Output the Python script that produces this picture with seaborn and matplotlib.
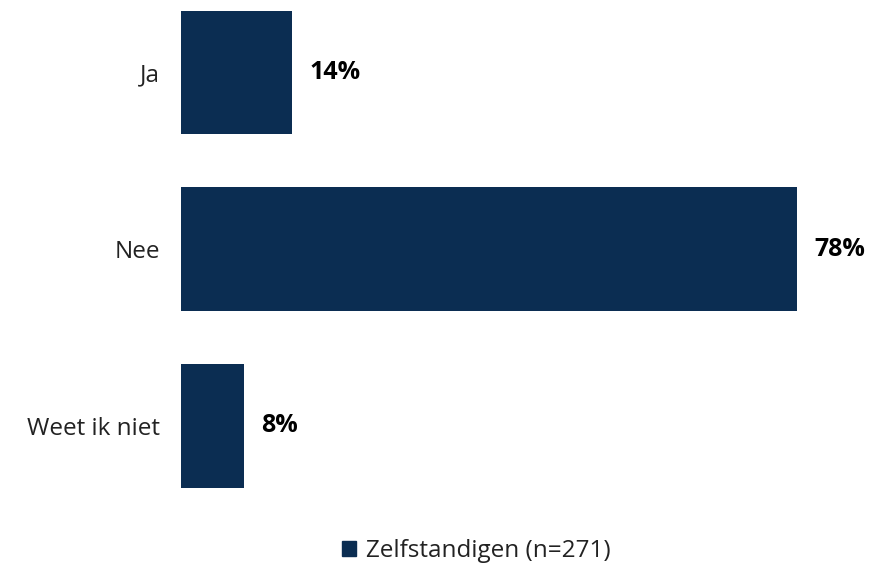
import matplotlib
matplotlib.use("Agg")
import matplotlib.pyplot as plt
import seaborn as sns
import pandas as pd
from matplotlib.patches import Patch

categories = ["Ja", "Nee", "Weet ik niet"]
values = [14, 78, 8]
series_name = "Zelfstandigen (n=271)"

df = pd.DataFrame({"antwoord": categories, "pct": values})

sns.set_style("white")
plt.rcParams['font.family'] = ['Open Sans', 'DejaVu Sans']

fig = plt.figure(figsize=(8.74, 5.66), dpi=100)
ax = fig.add_axes([181 / 874, 66 / 566, 693 / 874, 500 / 566])

kleur = "#0B2D52"
sns.barplot(data=df, y="antwoord", x="pct", color=kleur, width=0.70,
            saturation=1, linewidth=0, ax=ax, orient="h")

ax.set_xlim(0, 87.7)
ax.set_ylim(2.42, -0.41)
ax.set_xlabel("")
ax.set_ylabel("")
ax.set_xticks([])
ax.tick_params(axis="y", length=0, labelsize=17.5, pad=15, colors="#222222")
for s in ax.spines.values():
    s.set_visible(False)

for i, v in enumerate(values):
    ax.text(v + 2.2, i, f"{v}%", va="center", ha="left", fontsize=18,
            fontweight="bold", color="black")

handles = [Patch(facecolor=kleur, edgecolor=kleur)]
fig.legend(handles, [series_name], loc="center", bbox_to_anchor=(476 / 874, 1 - 551 / 566),
           frameon=False, fontsize=17.5, handlelength=0.6, handleheight=0.6,
           handletextpad=0.4, labelcolor="#222222")

fig.savefig("out.png", dpi=100)
